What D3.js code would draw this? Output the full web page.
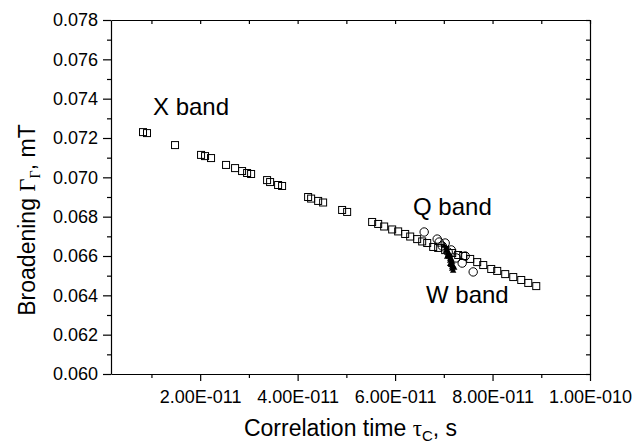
<!DOCTYPE html>
<html>
<head>
<meta charset="utf-8">
<script src="https://cdn.jsdelivr.net/npm/d3@7"></script>
<style>
  body { margin: 0; background: #fff; }
  text { font-family: "Liberation Sans", Arial, sans-serif; fill: #000; }
  .axis path, .axis line { stroke: #000; stroke-width: 1.2; }
</style>
</head>
<body>
<svg id="chart" width="634" height="444"></svg>
<script>
// X band: correlation time (s) and broadening (mT)
const xBandTau = [8.27e-12, 9.09e-12, 1.484e-11, 2.018e-11, 2.100e-11, 2.223e-11, 2.531e-11, 2.716e-11,
  2.860e-11, 2.963e-11, 3.045e-11, 3.373e-11, 3.435e-11, 3.599e-11, 3.681e-11, 4.215e-11, 4.277e-11,
  4.421e-11, 4.523e-11, 4.913e-11, 5.016e-11, 5.529e-11, 5.653e-11, 5.776e-11, 5.940e-11, 6.063e-11,
  6.207e-11, 6.310e-11, 6.453e-11, 6.556e-11, 6.659e-11, 6.782e-11, 6.884e-11, 7.028e-11, 7.172e-11,
  7.295e-11, 7.398e-11, 7.541e-11, 7.685e-11, 7.809e-11, 7.973e-11, 8.096e-11, 8.260e-11, 8.425e-11,
  8.589e-11, 8.733e-11, 8.897e-11];
const xBandGamma = [0.07230, 0.07225, 0.07164, 0.07114, 0.07108, 0.07098, 0.07063, 0.07047,
  0.07032, 0.07022, 0.07017, 0.06986, 0.06976, 0.06961, 0.06956, 0.06900, 0.06892,
  0.06880, 0.06872, 0.06834, 0.06824, 0.06773, 0.06763, 0.06750, 0.06735, 0.06725,
  0.06712, 0.06699, 0.06686, 0.06674, 0.06666, 0.06646, 0.06641, 0.06630, 0.06615,
  0.06605, 0.06600, 0.06585, 0.06569, 0.06554, 0.06534, 0.06524, 0.06508, 0.06493,
  0.06478, 0.06463, 0.06447];

// Q band
const qBandTau = [6.597e-11, 6.864e-11, 6.905e-11, 6.967e-11, 7.028e-11, 7.090e-11, 7.152e-11,
  7.254e-11, 7.377e-11, 7.439e-11, 7.603e-11];
const qBandGamma = [0.06722, 0.06686, 0.06671, 0.06651, 0.06666, 0.06620, 0.06631,
  0.06590, 0.06564, 0.06600, 0.06519];

// W band
const wBandTau = [7.008e-11, 7.049e-11, 7.069e-11, 7.090e-11, 7.090e-11, 7.110e-11, 7.131e-11,
  7.131e-11, 7.151e-11, 7.151e-11, 7.172e-11, 7.172e-11, 7.192e-11, 7.049e-11, 7.110e-11,
  7.151e-11, 7.131e-11, 7.192e-11, 7.069e-11, 7.172e-11, 7.213e-11];
const wBandGamma = [0.06651, 0.06641, 0.06626, 0.06615, 0.06605, 0.06595, 0.06585,
  0.06575, 0.06564, 0.06554, 0.06544, 0.06534, 0.06524, 0.06626, 0.06610,
  0.06585, 0.06559, 0.06549, 0.06595, 0.06570, 0.06539];

// Tick values
const xMajorTicks = [2e-11, 4e-11, 6e-11, 8e-11, 1e-10];
const xMinorTicks = [1e-11, 3e-11, 5e-11, 7e-11, 9e-11];
const xAllTicks = [1e-11, 2e-11, 3e-11, 4e-11, 5e-11, 6e-11, 7e-11, 8e-11, 9e-11, 1e-10];
const yMajorTicks = [0.060, 0.062, 0.064, 0.066, 0.068, 0.070, 0.072, 0.074, 0.076, 0.078];
const yMinorTicks = [0.061, 0.063, 0.065, 0.067, 0.069, 0.071, 0.073, 0.075, 0.077];
const yAllTicks = [0.060, 0.061, 0.062, 0.063, 0.064, 0.065, 0.066, 0.067, 0.068, 0.069, 0.070,
  0.071, 0.072, 0.073, 0.074, 0.075, 0.076, 0.077, 0.078];

const svg = d3.select("#chart");
const plot = { left: 111, right: 590, top: 20, bottom: 374 };

const x = d3.scaleLinear().domain([1.7e-12, 1e-10]).range([plot.left, plot.right]);
const y = d3.scaleLinear().domain([0.060, 0.078]).range([plot.bottom, plot.top]);

// Scientific format like 2.00E-011
function sciFormat(v) {
  const exp = Math.floor(Math.log10(v) + 1e-9);
  const mant = v / Math.pow(10, exp);
  const sign = exp < 0 ? "-" : "+";
  return mant.toFixed(2) + "E" + sign + String(Math.abs(exp)).padStart(3, "0");
}

const tickFont = 18;

// Bottom axis: major + minor ticks, outward
svg.append("g").attr("class", "axis")
  .attr("transform", `translate(0,${plot.bottom})`)
  .call(d3.axisBottom(x).tickValues(xMajorTicks).tickSize(7).tickSizeOuter(0)
    .tickPadding(9).tickFormat(sciFormat))
  .call(g => g.selectAll("text").style("font-size", tickFont + "px")
    .style("font-family", '"Liberation Sans", Arial, sans-serif'));
svg.append("g").attr("class", "axis")
  .attr("transform", `translate(0,${plot.bottom})`)
  .call(d3.axisBottom(x).tickValues(xMinorTicks).tickSize(4).tickSizeOuter(0).tickFormat(""))
  .call(g => g.select(".domain").remove());

// Top axis: inward ticks
svg.append("g").attr("class", "axis")
  .attr("transform", `translate(0,${plot.top})`)
  .call(d3.axisTop(x).tickValues(xAllTicks).tickSize(-4).tickSizeOuter(0).tickFormat(""));

// Left axis: major + minor outward
svg.append("g").attr("class", "axis")
  .attr("transform", `translate(${plot.left},0)`)
  .call(d3.axisLeft(y).tickValues(yMajorTicks).tickSize(8).tickSizeOuter(0)
    .tickPadding(5).tickFormat(d3.format(".3f")))
  .call(g => g.selectAll("text").style("font-size", tickFont + "px")
    .style("font-family", '"Liberation Sans", Arial, sans-serif'));
svg.append("g").attr("class", "axis")
  .attr("transform", `translate(${plot.left},0)`)
  .call(d3.axisLeft(y).tickValues(yMinorTicks).tickSize(4).tickSizeOuter(0).tickFormat(""))
  .call(g => g.select(".domain").remove());

// Right axis: inward ticks
svg.append("g").attr("class", "axis")
  .attr("transform", `translate(${plot.right},0)`)
  .call(d3.axisRight(y).tickValues(yAllTicks).tickSize(-4).tickSizeOuter(0).tickFormat(""));

// X band squares
const sq = 7;
svg.append("g").selectAll("rect")
  .data(d3.zip(xBandTau, xBandGamma))
  .join("rect")
  .attr("x", d => x(d[0]) - sq / 2)
  .attr("y", d => y(d[1]) - sq / 2)
  .attr("width", sq).attr("height", sq)
  .attr("fill", "none").attr("stroke", "#000").attr("stroke-width", 1);

// Q band circles
svg.append("g").selectAll("circle")
  .data(d3.zip(qBandTau, qBandGamma))
  .join("circle")
  .attr("cx", d => x(d[0])).attr("cy", d => y(d[1])).attr("r", 4.2)
  .attr("fill", "none").attr("stroke", "#000").attr("stroke-width", 1);

// W band filled triangles
const tri = d3.symbol().type(d3.symbolTriangle).size(18);
svg.append("g").selectAll("path")
  .data(d3.zip(wBandTau, wBandGamma))
  .join("path")
  .attr("transform", d => `translate(${x(d[0])},${y(d[1])})`)
  .attr("d", tri).attr("fill", "#000");

// Band labels
const bandFont = 24;
svg.append("text").attr("x", 153).attr("y", 115).style("font-size", bandFont + "px").text("X band");
svg.append("text").attr("x", 413).attr("y", 215).style("font-size", bandFont + "px").text("Q band");
svg.append("text").attr("x", 426).attr("y", 303).style("font-size", bandFont + "px").text("W band");

// Axis titles
const titleFont = 23;
const xt = svg.append("text")
  .attr("x", (plot.left + plot.right) / 2).attr("y", 436)
  .attr("text-anchor", "middle").style("font-size", titleFont + "px");
xt.append("tspan").text("Correlation time ");
xt.append("tspan").style("font-family", '"Liberation Serif", serif').text("τ");
xt.append("tspan").attr("dy", 5).style("font-size", "15px").text("C");
xt.append("tspan").attr("dy", -5).text(", s");

const yt = svg.append("text")
  .attr("transform", `translate(35,220) rotate(-90)`)
  .attr("text-anchor", "middle").style("font-size", titleFont + "px");
yt.append("tspan").text("Broadening ");
yt.append("tspan").style("font-family", '"Liberation Serif", serif').text("Γ");
yt.append("tspan").attr("dy", 5).style("font-size", "14px")
  .style("font-family", '"Liberation Serif", serif').text("Γ");
yt.append("tspan").attr("dy", -5).text(", mT");
</script>
</body>
</html>
